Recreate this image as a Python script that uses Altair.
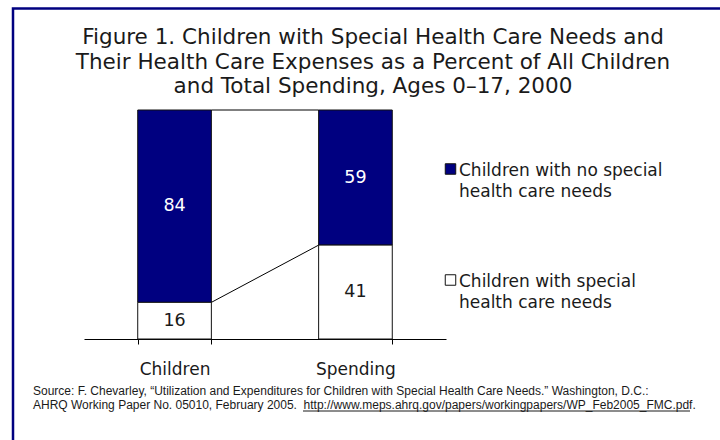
import altair as alt
import pandas as pd

# Share of all children and of total health care spending, ages 0-17, 2000
groups = ["Children", "Spending"]
no_special = [84, 59]      # children with no special health care needs
special = [16, 41]         # children with special health care needs
series_names = [
    "Children with no special health care needs",
    "Children with special health care needs",
]
series_colors = ["#000080", "#ffffff"]

title_lines = [
    "Figure 1. Children with Special Health Care Needs and",
    "Their Health Care Expenses as a Percent of All Children",
    "and Total Spending, Ages 0\u201317, 2000",
]
source_lines = [
    "Source: F. Chevarley, \u201cUtilization and Expenditures for Children with Special Health Care Needs.\u201d Washington, D.C.:",
    "AHRQ Working Paper No. 05010, February 2005.\u00a0 http://www.meps.ahrq.gov/papers/workingpapers/WP_Feb2005_FMC.pdf.",
]

rows = []
for i, g in enumerate(groups):
    rows.append({"group": g, "series": series_names[0], "value": no_special[i], "rank": 1})
    rows.append({"group": g, "series": series_names[1], "value": special[i], "rank": 0})
df = pd.DataFrame(rows)

# series lines joining the segment tops of neighbouring bars
links = pd.DataFrame({
    "from": [groups[0], groups[0]],
    "to": [groups[1], groups[1]],
    "y_from": [special[0], special[0] + no_special[0]],
    "y_to": [special[1], special[1] + no_special[1]],
})

FONT = "DejaVu Sans"
INK = "#1a1a1a"
W, H = 362, 229
LEFT, TOP = 84, 110

x_scale = alt.Scale(paddingInner=0.593, paddingOuter=0.297)
y_scale = alt.Scale(domain=[0, 100])
color_scale = alt.Scale(domain=series_names, range=series_colors)

bars = alt.Chart(df).mark_bar(stroke="#111111", strokeWidth=1, opacity=1).encode(
    x=alt.X("group:N", sort=groups, scale=x_scale, title=None,
            axis=alt.Axis(labelAngle=0, tickBand="extent", domainColor="#000000",
                          tickColor="#000000", tickSize=5, labelFont=FONT,
                          labelFontSize=17, labelColor=INK, labelPadding=17,
                          labelBaseline="top")),
    y=alt.Y("value:Q", stack="zero", scale=y_scale, axis=None),
    color=alt.Color("series:N", scale=color_scale, legend=None),
    order=alt.Order("rank:Q", sort="ascending"),
)

connectors = alt.Chart(links).mark_rule(color="#000000", strokeWidth=1).encode(
    x=alt.X("from:N", sort=groups, bandPosition=1),
    x2=alt.X2("to:N", bandPosition=0),
    y=alt.Y("y_from:Q"),
    y2=alt.Y2("y_to:Q"),
)

labels = alt.Chart(df).transform_stack(
    stack="value", groupby=["group"], as_=["y0", "y1"],
    sort=[alt.SortField("rank", order="ascending")],
).transform_calculate(
    mid="(datum.y0 + datum.y1) / 2"
).mark_text(font=FONT, fontSize=17.5, baseline="middle").encode(
    x=alt.X("group:N", sort=groups),
    y=alt.Y("mid:Q"),
    text=alt.Text("value:Q"),
    color=alt.condition(alt.datum.rank == 1, alt.value("#ffffff"), alt.value(INK)),
)

# legend: a swatch and a two-line label per series
legend_df = pd.DataFrame({"series": series_names})
legend_layers = []
for k, name in enumerate(series_names):
    entry = alt.Chart(legend_df).transform_filter(alt.datum.series == name)
    top = (169 if k == 0 else 280) - TOP
    legend_layers.append(
        entry.mark_square(size=110, opacity=1, stroke="#111111", strokeWidth=1).encode(
            x=alt.value(450.5 - LEFT), y=alt.value(top),
            color=alt.Color("series:N", scale=color_scale, legend=None),
        )
    )
    legend_layers.append(
        entry.transform_calculate(
            lines="split(replace(datum.series, ' health', '|health'), '|')"
        ).mark_text(font=FONT, fontSize=17, lineHeight=21, align="left",
                    baseline="top", color=INK).encode(
            x=alt.value(459 - LEFT), y=alt.value(top - 6.5),
            text=alt.Text("lines:N"),
        )
    )

title = alt.Chart(alt.Data(values=[{}])).mark_text(
    text=title_lines, font=FONT, fontSize=21.5, lineHeight=24.5,
    align="center", baseline="top", color=INK,
).encode(x=alt.value(373 - LEFT), y=alt.value(27 - TOP))

source = alt.Chart(alt.Data(values=[{}])).mark_text(
    text=source_lines, font="Liberation Sans", fontSize=12, lineHeight=14,
    align="left", baseline="top", color=INK,
).encode(x=alt.value(33 - LEFT), y=alt.value(386 - TOP))

# underline beneath the web address
url_line = alt.Chart(alt.Data(values=[{}])).mark_rule(color=INK, strokeWidth=1).encode(
    x=alt.value(303 - LEFT), x2=alt.value(690 - LEFT), y=alt.value(411 - TOP),
)

frame = alt.Chart(alt.Data(values=[{}])).mark_rect(
    fill=None, stroke="#000080", strokeWidth=2.5,
).encode(
    x=alt.value(13 - LEFT), x2=alt.value(760 - LEFT),
    y=alt.value(8.5 - TOP), y2=alt.value(480 - TOP),
)

chart = alt.layer(
    bars, connectors, labels, *legend_layers, title, source, url_line, frame
).properties(
    width=W, height=H, background="#ffffff",
    autosize=alt.AutoSizeParams(type="none"),
    padding={"left": LEFT, "top": TOP, "right": 720 - LEFT - W, "bottom": 440 - TOP - H},
).configure_view(strokeWidth=0, stroke="transparent")

chart.save("out.html", embed_options={"renderer": "svg", "actions": False})
